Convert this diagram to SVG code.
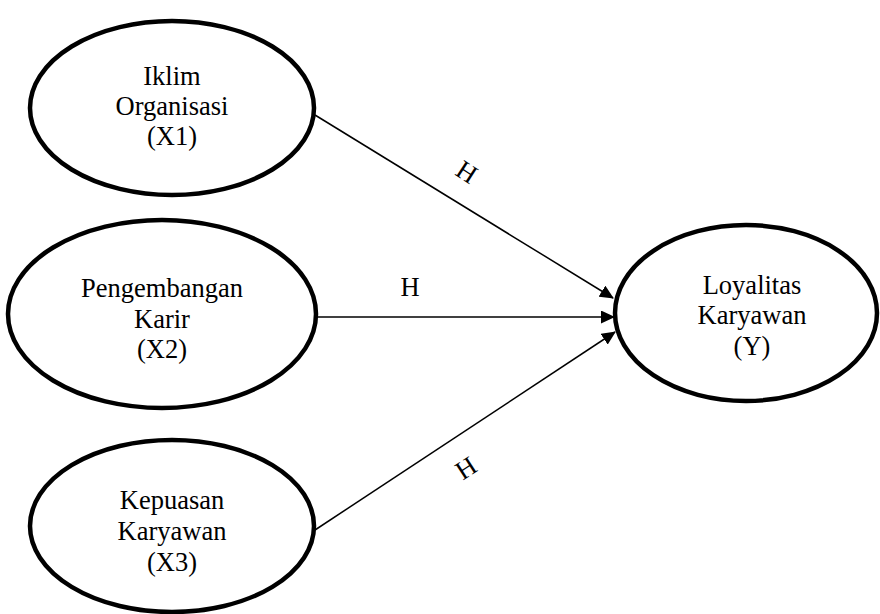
<svg xmlns="http://www.w3.org/2000/svg" width="880" height="614" viewBox="0 0 880 614">
<style>
.node ellipse{fill:#fff;stroke:#000;stroke-width:4.5}
.lbl{font-family:"Liberation Serif","Times New Roman",serif;font-size:26.5px;fill:#000;text-anchor:middle}
.edge{stroke:#000;stroke-width:1.5;fill:none}
</style>
<defs>
<marker id="arr" markerUnits="userSpaceOnUse" markerWidth="14" markerHeight="13" viewBox="0 0 14 13" refX="13" refY="6.5" orient="auto">
<path d="M0,0 L14,6.5 L0,13 Z" fill="#000"/>
</marker>
</defs>
<rect width="880" height="614" fill="#fff"/>
<g id="connectors">
<line class="edge" x1="315" y1="115" x2="613" y2="298" marker-end="url(#arr)"/>
<line class="edge" x1="316" y1="317" x2="614" y2="317" marker-end="url(#arr)"/>
<line class="edge" x1="315" y1="530" x2="615" y2="332" marker-end="url(#arr)"/>
<text class="lbl" x="467" y="181" transform="rotate(33 467 172)">H</text>
<text class="lbl" x="410" y="296">H</text>
<text class="lbl" x="466" y="477" transform="rotate(-33 466 468)">H</text>
</g>
<g id="x1" class="node">
<ellipse cx="172" cy="108" rx="142" ry="87"/>
<text class="lbl" x="172" y="85">Iklim</text>
<text class="lbl" x="172" y="115">Organisasi</text>
<text class="lbl" x="172" y="145">(X1)</text>
</g>
<g id="x2" class="node">
<ellipse cx="162" cy="314" rx="154" ry="94"/>
<text class="lbl" x="162" y="297">Pengembangan</text>
<text class="lbl" x="162" y="328">Karir</text>
<text class="lbl" x="162" y="358">(X2)</text>
</g>
<g id="x3" class="node">
<ellipse cx="172" cy="526" rx="142" ry="86"/>
<text class="lbl" x="172" y="509">Kepuasan</text>
<text class="lbl" x="172" y="540">Karyawan</text>
<text class="lbl" x="172" y="571">(X3)</text>
</g>
<g id="y" class="node">
<ellipse cx="746" cy="313" rx="131" ry="88"/>
<text class="lbl" x="752" y="294">Loyalitas</text>
<text class="lbl" x="752" y="324">Karyawan</text>
<text class="lbl" x="752" y="355">(Y)</text>
</g>
</svg>
